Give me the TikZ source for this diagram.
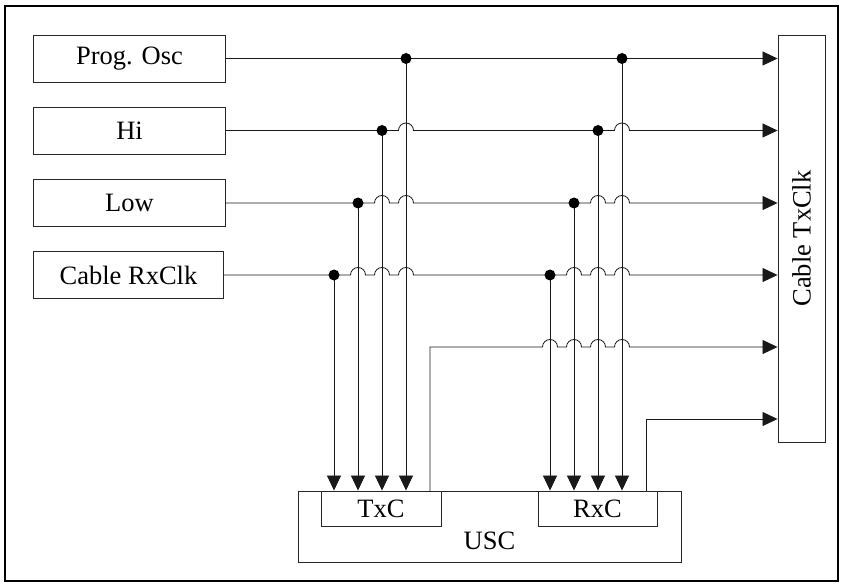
\documentclass[tikz,border=0pt]{standalone}
\usepackage{fontspec}
\setmainfont{Liberation Serif}
\usetikzlibrary{arrows.meta}
\begin{document}
\begin{tikzpicture}[x=1pt,y=-1pt,
  box/.style={draw=black!85,line width=0.9pt,rectangle,inner sep=0pt,font=\fontsize{26.5}{30}\selectfont},
  wire/.style={draw=black!90,line width=0.8pt},
  arr/.style={-{Triangle[length=15pt,width=14pt]}},
  dot/.style={fill=black}]
\useasboundingbox (0,0) rectangle (844,586);
\draw[line width=2pt] (5,6) rectangle (838,581);
% source boxes
\node[box,minimum width=192pt,minimum height=47pt] (prog) at (129.5,58.5) {Prog. Osc};
\node[box,minimum width=192pt,minimum height=47pt] (hi) at (129.5,130.5) {Hi};
\node[box,minimum width=192pt,minimum height=47pt] (low) at (129.5,203) {Low};
\node[box,minimum width=190pt,minimum height=47pt] (crx) at (128.5,275) {Cable RxClk};
% cable txclk
\node[box,minimum width=407pt,minimum height=47pt,rotate=90] (ctx) at (801.5,238.5) {Cable TxClk};
% USC
\node[box,minimum width=383pt,minimum height=71pt] (usc) at (489.5,526.5) {};
\node[box,minimum width=120pt,minimum height=35pt,anchor=north] (txc) at (381,491) {TxC};
\node[box,minimum width=119pt,minimum height=35pt,anchor=north] (rxc) at (597.5,491) {RxC};
\node[font=\fontsize{26.5}{30}\selectfont,inner sep=0pt] (usct) at (489.5,541) {USC};
% junction coordinates
\coordinate (a4) at (406,58.5);  \coordinate (b4) at (622,58.5);
\coordinate (a3) at (382,130.5); \coordinate (b3) at (598,130.5);
\coordinate (a2) at (358,203);   \coordinate (b2) at (574,203);
\coordinate (a1) at (334,275);   \coordinate (b1) at (550,275);
\coordinate (tout) at (430,491); \coordinate (rout) at (646,491);
% horizontal wires with hops
\draw[wire,arr] (prog.east) -- (prog.east -| ctx.north);
\draw[wire,arr] (hi.east) \foreach \c in {406,622} { -- (\c-7.5,130.5) arc[start angle=180,end angle=0,radius=7.5pt] } -- (hi.east -| ctx.north);
\draw[wire,arr] (low.east) \foreach \c in {382,406,598,622} { -- (\c-7.5,203) arc[start angle=180,end angle=0,radius=7.5pt] } -- (low.east -| ctx.north);
\draw[wire,arr] (crx.east) \foreach \c in {358,382,406,574,598,622} { -- (\c-7.5,275) arc[start angle=180,end angle=0,radius=7.5pt] } -- (crx.east -| ctx.north);
\draw[wire,arr] (tout) -- (430,347) \foreach \c in {550,574,598,622} { -- (\c-7.5,347) arc[start angle=180,end angle=0,radius=7.5pt] } -- (ctx.north |- 0,347);
\draw[wire,arr] (rout) -- (646,419) -- (ctx.north |- 0,419);
% vertical wires
\foreach \j in {a1,a2,a3,a4,b1,b2,b3,b4} {
  \draw[wire,arr] (\j) -- (\j |- usc.north);
  \fill[dot] (\j) circle[radius=5.5pt];
}
\end{tikzpicture}
\end{document}
